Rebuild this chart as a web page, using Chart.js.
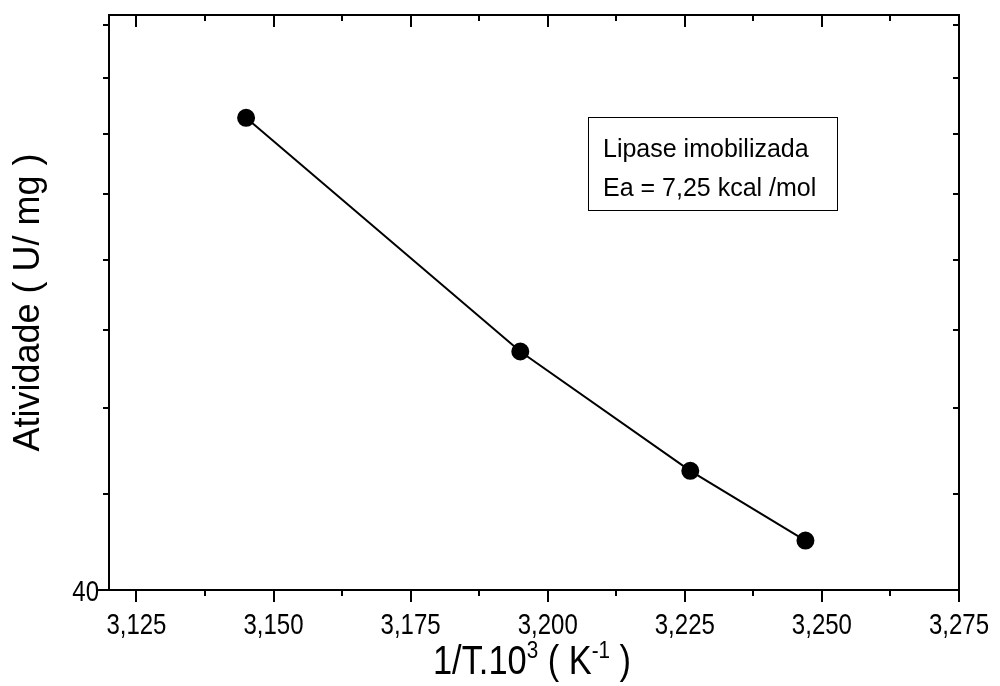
<!DOCTYPE html>
<html>
<head>
<meta charset="utf-8">
<title>Atividade vs 1/T</title>
<script src="https://cdn.jsdelivr.net/npm/chart.js@4.4.1/dist/chart.umd.min.js"></script>
<style>
    html, body { margin: 0; padding: 0; background: #fff; }
    #wrap { width: 1000px; height: 686px; }
</style>
</head>
<body>
<div id="wrap"><canvas id="arrheniusChart" width="1000" height="686"></canvas></div>
<script>
// data
const xValues = [3.145, 3.195, 3.226, 3.247];
const yValues = [71.4, 53.6, 46.3, 42.5];

const xMajorTicks = [3.125, 3.150, 3.175, 3.200, 3.225, 3.250, 3.275];
const xMinorTicks = [3.1375, 3.1625, 3.1875, 3.2125, 3.2375, 3.2625];
const xTickLabels = ['3,125', '3,150', '3,175', '3,200', '3,225', '3,250', '3,275'];
const yMajorTicks = [40];
const yMinorTicks = [45, 50, 55, 60, 65, 70, 75, 80];
const yTickLabels = ['40'];

const yTitle = 'Atividade ( U/ mg )';
const noteLines = ['Lipase imobilizada', 'Ea = 7,25 kcal /mol'];

const FONT = '"Liberation Sans", Arial, sans-serif';
const SQUEEZE = 0.8;   // reference uses a condensed face for the x axis text

(function () {
    // box round the plot + tick marks (outward on bottom/left, inward on top/right)
    const frameTicks = {
        id: 'frameTicks',
        afterDatasetsDraw(chart) {
            const { ctx, chartArea: a, scales: { x, y } } = chart;
            ctx.save();
            ctx.strokeStyle = '#000';
            ctx.lineWidth = 2;
            ctx.strokeRect(a.left, a.top, a.right - a.left, a.bottom - a.top);
            ctx.beginPath();
            const xt = (vals, len) => vals.forEach(v => {
                const px = Math.round(x.getPixelForValue(v));
                ctx.moveTo(px, a.bottom); ctx.lineTo(px, a.bottom + len);
                ctx.moveTo(px, a.top); ctx.lineTo(px, a.top + len);
            });
            const yt = (vals, len) => vals.forEach(v => {
                const py = Math.round(y.getPixelForValue(v));
                ctx.moveTo(a.left, py); ctx.lineTo(a.left - len, py);
                ctx.moveTo(a.right, py); ctx.lineTo(a.right - len, py);
            });
            xt(xMajorTicks, 12);
            xt(xMinorTicks, 6);
            yt(yMajorTicks, 12);
            yt(yMinorTicks, 6);
            ctx.stroke();
            ctx.restore();
        }
    };

    function squeezedText(ctx, text, px, py, align) {
        ctx.save();
        ctx.translate(px, py);
        ctx.scale(SQUEEZE, 1);
        ctx.textAlign = align;
        ctx.fillText(text, 0, 0);
        ctx.restore();
    }

    // tick labels, drawn condensed at the scale positions
    const tickLabels = {
        id: 'tickLabels',
        afterDraw(chart) {
            const { ctx, chartArea: a, scales: { x, y } } = chart;
            ctx.save();
            ctx.fillStyle = '#000';
            ctx.font = '30px ' + FONT;
            ctx.textBaseline = 'alphabetic';
            xMajorTicks.forEach((v, i) => squeezedText(ctx, xTickLabels[i], x.getPixelForValue(v), a.bottom + 44, 'center'));
            yMajorTicks.forEach((v, i) => squeezedText(ctx, yTickLabels[i], a.left - 10, y.getPixelForValue(v) + 11, 'right'));
            ctx.restore();
        }
    };

    const noteBox = {
        id: 'noteBox',
        afterDraw(chart) {
            const { ctx } = chart;
            ctx.save();
            ctx.strokeStyle = '#000';
            ctx.lineWidth = 1;
            ctx.strokeRect(588.5, 117.5, 249, 93);
            ctx.fillStyle = '#000';
            ctx.font = '25px ' + FONT;
            ctx.textBaseline = 'alphabetic';
            ctx.fillText(noteLines[0], 603, 157);
            ctx.fillText(noteLines[1], 603, 196);
            ctx.restore();
        }
    };

    // x title needs superscripts, so it is drawn by hand
    const xTitle = {
        id: 'xTitle',
        afterDraw(chart) {
            const { ctx, chartArea: a } = chart;
            const parts = [
                { t: '1/T.10', sup: false },
                { t: '3', sup: true },
                { t: ' ( K', sup: false },
                { t: '-1', sup: true },
                { t: ' )', sup: false }
            ];
            const big = '40px ' + FONT, small = '24px ' + FONT;
            ctx.save();
            let w = 0;
            parts.forEach(p => { ctx.font = p.sup ? small : big; w += ctx.measureText(p.t).width; });
            const base = 674;
            ctx.translate((a.left + a.right) / 2 - 2, base);
            ctx.scale(0.86, 1);
            let cx = -w / 2;
            ctx.fillStyle = '#000';
            ctx.textBaseline = 'alphabetic';
            parts.forEach(p => {
                ctx.font = p.sup ? small : big;
                ctx.fillText(p.t, cx, p.sup ? -16 : 0);
                cx += ctx.measureText(p.t).width;
            });
            ctx.restore();
        }
    };

    function renderChart() {
        const canvas = document.getElementById('arrheniusChart');
        new Chart(canvas.getContext('2d'), {
            type: 'line',
            data: {
                datasets: [{
                    data: xValues.map((v, i) => ({ x: v, y: yValues[i] })),
                    borderColor: '#000',
                    borderWidth: 2,
                    backgroundColor: '#000',
                    pointBackgroundColor: '#000',
                    pointBorderColor: '#000',
                    pointRadius: 8,
                    tension: 0,
                    fill: false
                }]
            },
            options: {
                responsive: false,
                animation: false,
                devicePixelRatio: 1,
                layout: { padding: { top: 15, right: 41, left: 0, bottom: 0 } },
                plugins: { legend: { display: false }, tooltip: { enabled: false } },
                scales: {
                    x: {
                        type: 'linear',
                        min: 3.12,
                        max: 3.275,
                        afterBuildTicks: axis => { axis.ticks = xMajorTicks.map(v => ({ value: v })); },
                        afterFit: s => { s.height = 96; s.paddingLeft = 0; s.paddingRight = 0; },
                        grid: { display: false },
                        border: { display: true, color: '#000', width: 2 },
                        ticks: { display: false }
                    },
                    y: {
                        type: 'logarithmic',
                        min: 40,
                        max: 81,
                        afterBuildTicks: axis => {
                            axis.ticks = yMajorTicks.concat(yMinorTicks).map(v => ({ value: v }));
                        },
                        afterFit: s => { s.width = 109; s.paddingTop = 0; s.paddingBottom = 0; },
                        grid: { display: false },
                        border: { display: true, color: '#000', width: 2 },
                        ticks: { display: false },
                        title: {
                            display: true,
                            text: yTitle,
                            color: '#000',
                            font: { family: FONT, size: 36 },
                            padding: { top: 7, bottom: 0 }
                        }
                    }
                }
            },
            plugins: [frameTicks, tickLabels, noteBox, xTitle]
        });
    }

    if (document.readyState === 'loading') {
        document.addEventListener('DOMContentLoaded', renderChart);
    } else { renderChart(); }
})();
</script>
</body>
</html>
